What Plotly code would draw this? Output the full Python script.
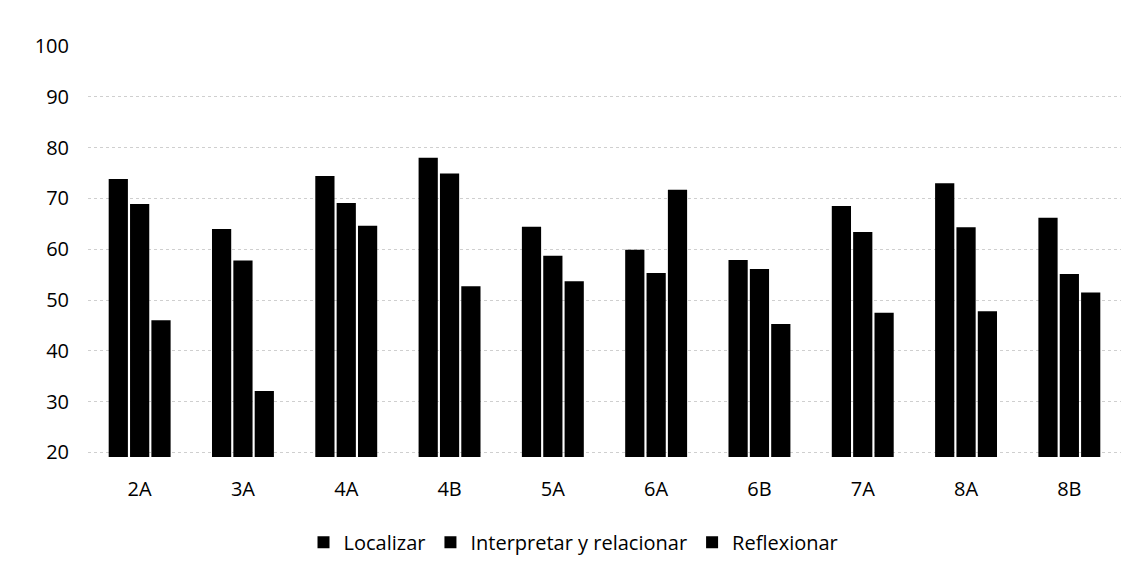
import plotly.graph_objects as go

categories = ["2A", "3A", "4A", "4B", "5A", "6A", "6B", "7A", "8A", "8B"]
localizar = [73.8, 64.0, 74.4, 78.0, 64.4, 59.9, 57.9, 68.5, 73.0, 66.2]
interpretar = [68.9, 57.8, 69.1, 74.9, 58.7, 55.3, 56.1, 63.4, 64.3, 55.1]
reflexionar = [46.0, 32.1, 64.6, 52.7, 53.7, 71.7, 45.3, 47.5, 47.8, 51.5]
series_names = ["Localizar", "Interpretar y relacionar", "Reflexionar"]
y_ticks = [20, 30, 40, 50, 60, 70, 80, 90, 100]

fig = go.Figure()
for name, vals in zip(series_names, [localizar, interpretar, reflexionar]):
    fig.add_trace(go.Bar(x=categories, y=vals, name=name,
                         marker=dict(color="#000000", line=dict(width=0))))

fig.update_layout(
    width=1133, height=568,
    margin=dict(l=80, r=20, t=38, b=119),
    paper_bgcolor="white", plot_bgcolor="white",
    barmode="group", bargap=0.38, bargroupgap=0.1,
    font=dict(family="Open Sans, Noto Sans, sans-serif", size=20, color="#000000"),
    showlegend=True,
    legend=dict(orientation="h", x=0.47, xanchor="center", y=-0.16, yanchor="top",
                font=dict(size=20), itemwidth=30, traceorder="normal"),
    xaxis=dict(showline=False, ticks="", showgrid=False, tickfont=dict(size=20),
               ticklabelstandoff=18),
    yaxis=dict(range=[19.1, 100], tickvals=y_ticks, showgrid=True,
               gridcolor="#cfcfcf", griddash="dot", gridwidth=1,
               zeroline=False, showline=False, ticks="", tickfont=dict(size=20),
               ticklabelstandoff=18),
)
fig.write_html("out.html")
